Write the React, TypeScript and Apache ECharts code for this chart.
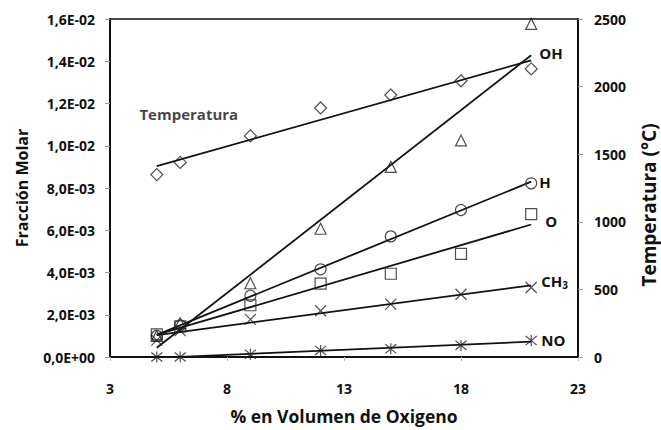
import React, { useEffect, useRef } from "react";
import * as echarts from "echarts";

const oxygen = [5, 6, 9, 12, 15, 18, 21];
const temperatura = [1349, 1439, 1635, 1842, 1938, 2043, 2131];
const oh = [0.00100, 0.00160, 0.00349, 0.00607, 0.00900, 0.01025, 0.01577];
const hAtom = [0.00100, 0.00150, 0.00290, 0.00415, 0.00571, 0.00696, 0.00822];
const oAtom = [0.00107, 0.00145, 0.00245, 0.00347, 0.00394, 0.00488, 0.00676];
const ch3 = [0.00080, 0.00125, 0.00178, 0.00219, 0.00250, 0.00297, 0.00329];
const no = [0.0, 0.0, 0.00013, 0.00031, 0.00039, 0.00055, 0.00078];

const xTicks = { min: 3, max: 23, interval: 5 };
const leftTicks = { min: 0, max: 0.016, interval: 0.002 };
const rightTicks = { min: 0, max: 2500, interval: 500 };

const FONT = "'Open Sans', sans-serif";
const INK = "#111";

function fit(xs: number[], ys: number[]) {
  const n = xs.length;
  const mx = xs.reduce((a, b) => a + b, 0) / n;
  const my = ys.reduce((a, b) => a + b, 0) / n;
  let sxy = 0;
  let sxx = 0;
  for (let i = 0; i < n; i++) {
    sxy += (xs[i] - mx) * (ys[i] - my);
    sxx += (xs[i] - mx) * (xs[i] - mx);
  }
  const b = sxy / sxx;
  const a = my - b * mx;
  const x0 = xs[0];
  const x1 = xs[n - 1];
  return [
    [x0, a + b * x0],
    [x1, a + b * x1],
  ];
}

function sci(v: number) {
  if (Math.abs(v) < 1e-12) return "0,0E+00";
  const e = Math.floor(Math.log10(v) + 1e-9);
  const m = v / Math.pow(10, e);
  const sign = e < 0 ? "-" : "+";
  const ee = Math.abs(e).toString().padStart(2, "0");
  return m.toFixed(1).replace(".", ",") + "E" + sign + ee;
}

const pts = (ys: number[]) => oxygen.map((x, i) => [x, ys[i]]);

const markerStyle = {
  color: "rgba(0,0,0,0)",
  borderColor: "#222",
  borderWidth: 1.2,
};

const CROSS = "path://M0,0L10,10M10,0L0,10";
const STAR = "path://M0,0L10,10M10,0L0,10M5,-1L5,11";

export default function App() {
  const ref = useRef<HTMLDivElement>(null);
  useEffect(() => {
    if (!ref.current) return;
    const chart = echarts.init(ref.current, null, { renderer: "svg" });
    const labelBase = {
      fontFamily: FONT,
      fontWeight: "bold" as const,
      fontSize: 15,
      color: INK,
    };
    const tickLabel = { fontFamily: FONT, fontWeight: "bold" as const, fontSize: 14, color: INK };
    const scatter = (name: string, ys: number[], symbol: string, size: number, yAxisIndex = 0) => ({
      name,
      type: "scatter",
      yAxisIndex,
      symbol,
      symbolSize: size,
      itemStyle: markerStyle,
      data: pts(ys),
      z: 3,
    });
    const trend = (name: string, ys: number[], label: any, yAxisIndex = 0) => ({
      name: name + " tendencia",
      type: "line",
      yAxisIndex,
      symbol: "none",
      lineStyle: { color: INK, width: 1.8 },
      data: fit(oxygen, ys),
      z: 2,
      endLabel: label
        ? { show: true, distance: 8, ...labelBase, ...label }
        : { show: false },
    });

    const tempData: any[] = pts(temperatura);
    tempData[0] = {
      value: tempData[0],
      label: {
        show: true,
        position: "top",
        offset: [32, -42],
        formatter: "Temperatura",
        ...labelBase,
      },
    };

    chart.setOption({
      animation: false,
      backgroundColor: "#fff",
      grid: {
        left: 110,
        right: 83,
        top: 19,
        bottom: 70,
        show: true,
        borderColor: INK,
        borderWidth: 1.5,
        backgroundColor: "transparent",
      },
      graphic: [
        {
          type: "text",
          x: 649,
          y: 205,
          rotation: Math.PI / 2,
          style: {
            text: "Temperatura (°C)",
            align: "center",
            verticalAlign: "middle",
            fontFamily: FONT,
            fontWeight: "bold",
            fontSize: 19,
            fill: INK,
          },
        },
      ],
      xAxis: {
        type: "value",
        ...xTicks,
        name: "% en Volumen de Oxigeno",
        nameLocation: "middle",
        nameGap: 50,
        nameTextStyle: { fontFamily: FONT, fontWeight: "bold", fontSize: 17.5, color: INK },
        axisLine: { show: true, lineStyle: { color: INK, width: 2 } },
        axisTick: { show: true, length: 4, lineStyle: { color: "#bbb" } },
        splitLine: { show: false },
        axisLabel: { margin: 24, ...tickLabel },
      },
      yAxis: [
        {
          type: "value",
          ...leftTicks,
          name: "Fracción Molar",
          nameLocation: "middle",
          nameGap: 80,
          nameTextStyle: { fontFamily: FONT, fontWeight: "bold", fontSize: 16, color: INK },
          axisLine: { show: true, lineStyle: { color: INK, width: 2 } },
          axisTick: { show: true, length: 5, lineStyle: { color: "#999" } },
          splitLine: { show: false },
          axisLabel: { margin: 15, ...tickLabel, formatter: (v: number) => sci(v) },
        },
        {
          type: "value",
          ...rightTicks,
          position: "right",
          axisLine: { show: true, lineStyle: { color: INK, width: 2 } },
          axisTick: { show: true, length: 5, lineStyle: { color: "#999" } },
          splitLine: { show: false },
          axisLabel: { margin: 16, ...tickLabel, formatter: (v: number) => String(v) },
        },
      ],
      series: [
        trend("Temperatura", temperatura, null, 1),
        { ...scatter("Temperatura", temperatura, "diamond", 12, 1), data: tempData },
        trend("OH", oh, { formatter: "OH", offset: [0, -2] }),
        scatter("OH", oh, "triangle", 11),
        trend("H", hAtom, { formatter: "H" }),
        scatter("H", hAtom, "circle", 11),
        trend("O", oAtom, { formatter: "O", offset: [6, -3] }),
        scatter("O", oAtom, "rect", 11),
        trend("CH3", ch3, {
          formatter: "{a|CH}{b|3}",
          offset: [2, -4],
          rich: {
            a: { ...labelBase },
            b: { ...labelBase, fontSize: 10, padding: [8, 0, 0, 0] },
          },
        }),
        scatter("CH3", ch3, CROSS, 11),
        trend("NO", no, { formatter: "NO", offset: [2, -2] }),
        scatter("NO", no, STAR, 11),
      ],
    });
    return () => chart.dispose();
  }, []);
  return (
    <div
      ref={ref}
      style={{ position: "absolute", left: 0, top: 0, width: 661, height: 430 }}
    />
  );
}
